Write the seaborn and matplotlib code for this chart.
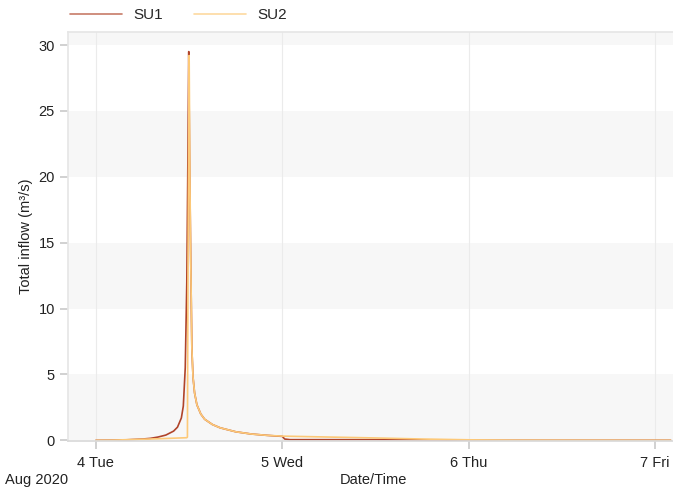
#!/usr/bin/env python3

import numpy as np
import pandas as pd
import matplotlib
matplotlib.use('Agg')
import matplotlib.pyplot as plt
import seaborn as sns
from matplotlib.lines import Line2D

# hours after 2020-08-04 00:00 and total inflow (m3/s)
su1_hours = [0, 2, 4, 6, 7, 8, 9, 10, 10.5, 11, 11.25, 11.5, 11.7, 11.85, 11.95, 12.05,
             12.2, 12.35, 12.5, 12.7, 13.0, 13.5, 14, 15, 16, 18, 20, 22, 24, 24.3, 25, 36, 44, 46, 72, 74]
su1_flow = [0, 0.01, 0.04, 0.1, 0.15, 0.25, 0.4, 0.7, 1.0, 1.7, 2.6, 5.5, 12, 22, 29.5, 22,
            14, 7, 4.8, 3.6, 2.7, 2.0, 1.6, 1.2, 0.95, 0.65, 0.48, 0.38, 0.3, 0.1, 0.05, 0.05, 0.03, 0.0, 0.0, 0.0]

su2_hours = [0, 2, 4, 8, 11.7, 11.78, 11.85, 12.0, 12.1, 12.2, 12.35, 12.5, 12.7, 13.0, 13.5, 14,
             15, 16, 18, 20, 22, 24, 30, 36, 42, 48, 54, 72, 74]
su2_flow = [0, 0.01, 0.05, 0.12, 0.2, 0.25, 12, 29.2, 20, 14, 7, 4.8, 3.6, 2.7, 2.0, 1.6,
            1.2, 0.95, 0.65, 0.48, 0.38, 0.32, 0.25, 0.18, 0.1, 0.04, 0.01, 0.0, 0.0]

series = ['SU1', 'SU2']
colors = ['#b0442a', '#fdc978']
day_ticks = ['2020-08-04', '2020-08-05', '2020-08-06', '2020-08-07']
day_labels = ['4 Tue', '5 Wed', '6 Thu', '7 Fri']

start = pd.Timestamp('2020-08-04')
df = pd.concat([
	pd.DataFrame({'time': start + pd.to_timedelta(su1_hours, unit='h'), 'flow': su1_flow, 'series': 'SU1'}),
	pd.DataFrame({'time': start + pd.to_timedelta(su2_hours, unit='h'), 'flow': su2_flow, 'series': 'SU2'}),
])

sns.set_theme(style='white')
plt.rcParams['font.family'] = ['Liberation Sans', 'DejaVu Sans']

fig = plt.figure(figsize=(6.73, 4.9), dpi=100)
ax = fig.add_axes([0.101, 0.1, 0.899, 0.835])

# alternating bands
for lo in [0, 10, 20, 30]:
	ax.axhspan(lo, lo + 5, color='#f7f7f7', zorder=0, lw=0)

sns.lineplot(data=df, x='time', y='flow', hue='series', palette=dict(zip(series, colors)),
	linewidth=1.2, ax=ax, legend=False, estimator=None)

ticks = [pd.Timestamp(d) for d in day_ticks]
ax.set_xticks(ticks)
ax.set_xticklabels(day_labels)
for t in ticks:
	ax.axvline(t, color='#ebebeb', lw=0.8, zorder=0.5)

ax.set_xlim(start - pd.Timedelta(hours=3.6), start + pd.Timedelta(hours=74.3))
ax.set_ylim(-0.05, 31)
ax.set_yticks([0, 5, 10, 15, 20, 25, 30])

ax.spines['right'].set_visible(False)
ax.spines['top'].set_color('#e6e6e6')
ax.spines['left'].set_color('#e6e6e6')
ax.spines['bottom'].set_color('#d9d9d9')
ax.tick_params(axis='both', which='major', length=6, color='#cccccc', labelsize=10.5,
	labelcolor='#222222', left=True, bottom=True)
ax.tick_params(axis='x', pad=5)

ax.set_ylabel('Total inflow (m³/s)', fontsize=10.5, color='#222222')
ax.set_xlabel('')
fig.text(0.555, 0.013, 'Date/Time', fontsize=10.5, color='#222222', ha='center')
fig.text(0.008, 0.013, 'Aug 2020', fontsize=10.5, color='#222222', ha='left')

# legend above the plot
handles = [Line2D([], [], color=c, lw=1.2, alpha=0.7) for c in colors]
fig.legend(handles, series, loc='upper left', bbox_to_anchor=(0.104, 0.983), ncol=2, frameon=False,
	fontsize=11, handlelength=3.4, columnspacing=2.0, handletextpad=0.75,
	borderpad=0, borderaxespad=0)

fig.savefig('out.png', dpi=100)
